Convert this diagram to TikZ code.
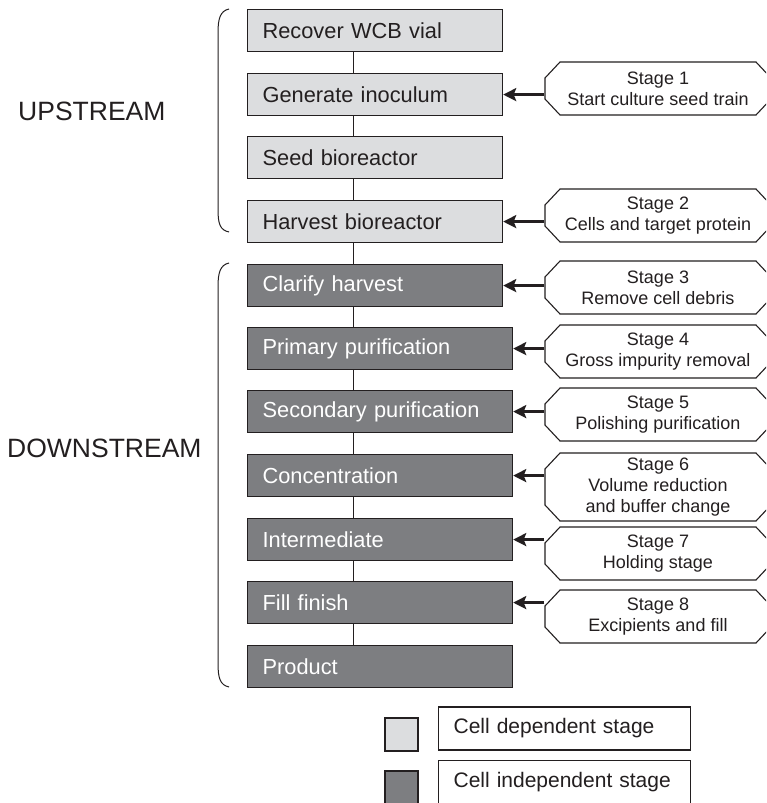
\documentclass[tikz,border=0pt]{standalone}
\usepackage{fontspec}
\setmainfont{Liberation Sans}
\usetikzlibrary{arrows.meta,calc,backgrounds}

\definecolor{cellDep}{HTML}{DCDDDF}
\definecolor{cellIndep}{HTML}{7D7E81}
\definecolor{ink}{HTML}{231F20}

\tikzset{
  proc/.style={draw=ink, line width=1.2pt, anchor=north west, minimum height=42pt,
    inner xsep=15pt, inner ysep=0pt, align=left, font=\fontsize{21.8}{24}\selectfont},
  lightbox/.style={proc, fill=cellDep, text=ink, text width=225pt},
  darkbox/.style={proc, fill=cellIndep, text=white, text width=225pt},
  widebox/.style={text width=235pt},
  link/.style={draw=ink, line width=0.9pt},
  feed/.style={draw=ink, line width=2.8pt, -{Stealth[length=13pt,width=13pt,inset=2.5pt]}},
  stageline/.style={draw=ink, line width=1.1pt, fill=white},
  stagetext/.style={inner sep=0pt, minimum width=227pt, align=center, text=ink,
    font=\fontsize{18}{21}\selectfont},
  sidelabel/.style={inner sep=0pt, anchor=base west, text=ink, font=\fontsize{26.5}{30}\selectfont},
  bracket/.style={draw=ink, line width=1pt},
  keyswatch/.style={draw=ink, line width=1.2pt, minimum size=33pt, inner sep=0pt},
  keytext/.style={draw=ink, line width=1.2pt, anchor=west, minimum height=43pt, inner xsep=15pt,
    text width=222pt, align=left, text=ink, font=\fontsize{21}{24}\selectfont},
}

% stage note: name, centre y, height, text
\newcommand\stagenote[4]{%
  \draw[stageline] (560,{#2-#3/2}) -- (756,{#2-#3/2}) -- (771,{#2-#3/2+16}) -- (771,{#2+#3/2-16})
    -- (756,{#2+#3/2}) -- (560,{#2+#3/2}) -- (545,{#2+#3/2-16}) -- (545,{#2-#3/2+16}) -- cycle;
  \node[stagetext, minimum height=#3pt] (#1) at (658,#2) {#4};
}

\begin{document}
\begin{tikzpicture}[x=1pt, y=-1pt]
\useasboundingbox (0,0) rectangle (766,803);
\begin{scope}[on background layer]
  \fill[white] (0,0) rectangle (766,803);
\end{scope}
\clip (0,0) rectangle (766,803);

% process steps
\node[lightbox] (b1) at (247,9)   {Recover WCB vial};
\node[lightbox] (b2) at (247,73)  {Generate inoculum};
\node[lightbox] (b3) at (247,136) {Seed bioreactor};
\node[lightbox] (b4) at (247,200) {Harvest bioreactor};
\node[darkbox]  (b5) at (247,264) {Clarify harvest};
\node[darkbox, widebox] (b6)  at (247,327) {Primary purification};
\node[darkbox, widebox] (b7)  at (247,390) {Secondary purification};
\node[darkbox, widebox] (b8)  at (247,454) {Concentration};
\node[darkbox, widebox] (b9)  at (247,518) {Intermediate};
\node[darkbox, widebox] (b10) at (247,581) {Fill finish};
\node[darkbox, widebox] (b11) at (247,645) {Product};

% vertical links between steps
\foreach \a/\b in {b1/b2,b2/b3,b3/b4,b4/b5,b5/b6,b6/b7,b7/b8,b8/b9,b9/b10,b10/b11}
  \draw[link] ($(\a.south west)+(106,0)$) -- ($(\b.north west)+(106,0)$);

% stage notes
\stagenote{s1}{88.5}{53}{Stage 1\\Start culture seed train}
\stagenote{s2}{215.5}{53}{Stage 2\\Cells and target protein}
\stagenote{s3}{287.5}{53}{Stage 3\\Remove cell debris}
\stagenote{s4}{351.5}{53}{Stage 4\\Gross impurity removal}
\stagenote{s5}{414.5}{53}{Stage 5\\Polishing purification}
\stagenote{s6}{487}{68}{Stage 6\\Volume reduction\\and buffer change}
\stagenote{s7}{553.5}{53}{Stage 7\\Holding stage}
\stagenote{s8}{616.5}{53}{Stage 8\\Excipients and fill}

\begin{scope}[on background layer]
  \foreach \s/\b in {s1/b2,s2/b4,s3/b5,s4/b6,s5/b7,s6/b8,s7/b9,s8/b10}
    \draw[feed] (\s.west |- \b.east) -- (\b.east);
\end{scope}

% phase brackets and labels
\draw[bracket] (229,9) .. controls (220,11) and (218,19) .. (218,33) -- (218,209)
  .. controls (218,224) and (220,230) .. (229,232);
\draw[bracket] (229,263) .. controls (220,265) and (218,273) .. (218,287) -- (218,663)
  .. controls (218,678) and (220,685) .. (229,687);
\node[sidelabel] (upLbl) at (18,120) {UPSTREAM};
\node[sidelabel] (downLbl) at (7,457) {DOWNSTREAM};

% key
\node[keyswatch, fill=cellDep] (keyDep) at (401.5,734.5) {};
\node[keytext] (keyDepTxt) at (438,728.5) {Cell dependent stage};
\node[keyswatch, fill=cellIndep] (keyInd) at (401.5,787.5) {};
\node[keytext] (keyIndTxt) at (438,782) {Cell independent stage};
\end{tikzpicture}
\end{document}
